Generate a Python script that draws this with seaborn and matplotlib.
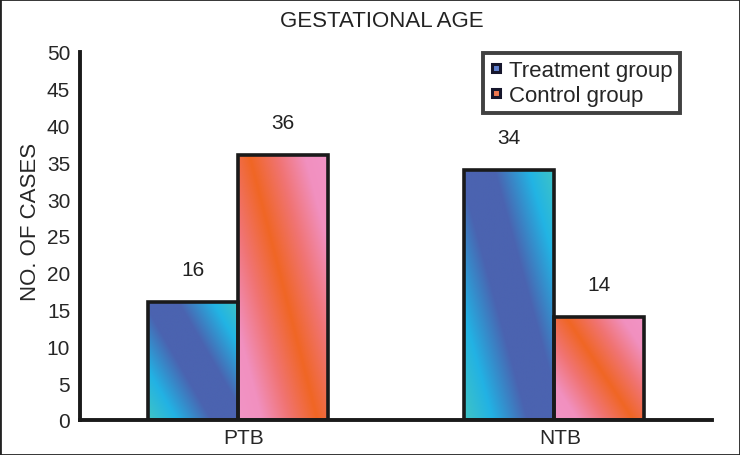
import numpy as np
import pandas as pd
import seaborn as sns
import matplotlib
matplotlib.use("Agg")
import matplotlib.pyplot as plt
import matplotlib.transforms as mtransforms
from matplotlib.colors import LinearSegmentedColormap
from matplotlib.lines import Line2D
from matplotlib.patches import Rectangle

# data
categories = ["PTB", "NTB"]
groups = ["Treatment group", "Control group"]
treatment = [16, 34]
control = [36, 14]

df = pd.DataFrame({
    "cat": categories * 2,
    "group": [groups[0]] * 2 + [groups[1]] * 2,
    "cases": treatment + control,
})

# diagonal gradient fills like the original (excel style)
cmaps = {
    groups[0]: LinearSegmentedColormap.from_list("treat", [
        (0.0, "#40c4c4"), (0.18, "#22b2e4"), (0.40, "#4b63b0"),
        (0.62, "#4b63b0"), (0.84, "#22b4e4"), (1.0, "#40c4c4")]),
    groups[1]: LinearSegmentedColormap.from_list("ctrl", [
        (0.0, "#f294c6"), (0.15, "#f190bf"), (0.32, "#f07474"),
        (0.50, "#f06624"), (0.68, "#f07474"), (0.85, "#f190bf"),
        (1.0, "#f294c6")]),
}
legend_colors = {groups[0]: "#6080d0", groups[1]: "#f07850"}

sns.set_style("white")
plt.rcParams["font.family"] = ["Liberation Sans", "DejaVu Sans"]

fig = plt.figure(figsize=(7.4, 4.56), dpi=100)
ax = fig.add_axes([0.108, 0.077, 0.854, 0.807])

sns.barplot(data=df, x="cat", y="cases", hue="group", order=categories,
            hue_order=groups, width=0.57, ax=ax, legend=False,
            edgecolor="#1a1a1a", linewidth=2.6)

# swap the solid fills for gradients clipped to each bar
bars = [p for p in ax.patches if p.get_width() > 0]
n = len(categories)
uu, vv = np.meshgrid(np.linspace(0, 1, 200), np.linspace(0, 1, 200))
tt = (uu + 0.75 * vv) / 1.75
for i, bar in enumerate(bars):
    grp = groups[i // n]
    x0, y0 = bar.get_x(), bar.get_y()
    w, h = bar.get_width(), bar.get_height()
    img = ax.imshow(tt, cmap=cmaps[grp], vmin=0, vmax=1, origin="lower",
                    extent=[x0, x0 + w, y0, y0 + h], aspect="auto", zorder=1.5)
    img.set_clip_path(bar)
    bar.set_facecolor("none")
    bar.set_zorder(2)
    ax.text(x0 + w / 2, y0 + h + 4.4, f"{h:.0f}", ha="center", va="center",
            fontsize=15, color="#222222")

ax.set_xlim(-0.5, 1.5)
ax.set_ylim(0, 50)
ax.set_yticks(range(0, 51, 5))
ax.set_xticks(range(n))
ax.set_xticklabels(categories)
ax.set_xticks([-0.5, 0.5, 1.5], minor=True)
ax.tick_params(axis="x", which="major", length=0, pad=6, labelsize=15)
ax.tick_params(axis="x", which="minor", length=4, width=2.6, direction="out")
ax.tick_params(axis="y", length=4, width=2.6, direction="out", pad=3,
               labelsize=15)
# category labels sit a little right of the bar groups in the original
shift = mtransforms.ScaledTranslation(6 / 100, 0, fig.dpi_scale_trans)
for lab in ax.get_xticklabels():
    lab.set_transform(lab.get_transform() + shift)
ax.set_xlabel("")
ax.set_ylabel("NO. OF CASES", fontsize=16)
ax.yaxis.set_label_coords(-0.062, 0.54)

sns.despine(ax=ax)
for s in ["left", "bottom"]:
    ax.spines[s].set_linewidth(2.8)
    ax.spines[s].set_color("#1a1a1a")

handles = [Line2D([], [], linestyle="none", marker="s", markersize=5.5,
                  markerfacecolor=legend_colors[g], markeredgecolor="#16162c",
                  markeredgewidth=2.2) for g in groups]
leg = ax.legend(handles, groups, loc="upper right",
                bbox_to_anchor=(0.949, 0.997), fontsize=16, frameon=True,
                fancybox=False, handlelength=0.5, handletextpad=0.35,
                borderpad=0.32, labelspacing=0.18, borderaxespad=0)
leg.get_frame().set_edgecolor("#111111")
leg.get_frame().set_linewidth(2.8)

fig.text(0.516, 0.952, "GESTATIONAL AGE", ha="center", va="center",
         fontsize=16, color="#222222")

# thin frame round the whole picture
fig.patches.append(Rectangle((0, 0), 1, 1, transform=fig.transFigure,
                             fill=False, edgecolor="#222222", linewidth=2))

fig.savefig("out.png", dpi=100)
